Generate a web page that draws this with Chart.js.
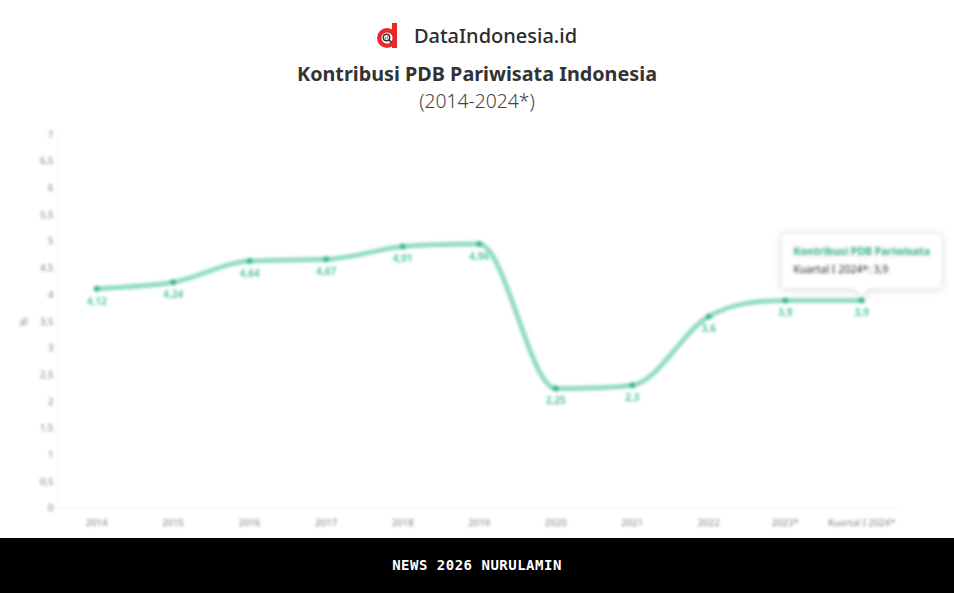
<!DOCTYPE html>
<html>
<head>
<meta charset="utf-8">
<script src="https://cdn.jsdelivr.net/npm/chart.js@4"></script>
<style>
  html,body{margin:0;padding:0;background:#fff;width:954px;height:593px;overflow:hidden;font-family:"Noto Sans",sans-serif;}
  #head{position:absolute;left:0;top:0;width:954px;height:120px;}
  #logo{position:absolute;top:22px;left:0;width:954px;text-align:center;height:30px;}
  #logo .wrap{display:inline-flex;align-items:center;gap:13px;}
  #logo .txt{font-size:20px;color:#2b2b2b;font-weight:500;}
  #title{position:absolute;top:60px;left:0;width:954px;text-align:center;font-size:19.8px;font-weight:700;color:#333;}
  #sub{position:absolute;top:87px;left:0;width:954px;text-align:center;font-size:19.3px;font-weight:300;color:#444;}
  #cv{position:absolute;left:0;top:120px;width:954px;height:418px;filter:blur(1.6px);}
  #foot{position:absolute;left:0;top:538px;width:954px;height:55px;background:#000;color:#fff;text-align:center;line-height:55px;font-family:"DejaVu Sans Mono",monospace;font-size:14px;font-weight:700;letter-spacing:0.5px;}
</style>
</head>
<body>
<div id="head">
  <div id="logo"><span class="wrap">
    <svg width="24" height="26" viewBox="0 0 24 26">
      <circle cx="10" cy="15" r="10" fill="#e8282b"/>
      <rect x="15" y="0" width="5" height="25" fill="#e8282b"/>
      <circle cx="10" cy="15" r="5.5" fill="#fff"/>
      <circle cx="9.5" cy="14.5" r="3.2" fill="none" stroke="#333" stroke-width="1.4"/>
      <line x1="11.8" y1="16.8" x2="14.5" y2="19.5" stroke="#333" stroke-width="1.6"/>
      <rect x="8" y="14" width="1.2" height="2" fill="#2a9"/>
      <rect x="10" y="13" width="1.2" height="3" fill="#f90"/>
    </svg>
    <span class="txt">DataIndonesia.id</span></span></div>
  <div id="title">Kontribusi PDB Pariwisata Indonesia</div>
  <div id="sub">(2014-2024*)</div>
</div>
<canvas id="cv" width="954" height="418"></canvas>
<div id="foot">NEWS 2026 NURULAMIN</div>
<script>
const categories = ["2014","2015","2016","2017","2018","2019","2020","2021","2022","2023*","Kuartal I 2024*"];
const seriesName = "Kontribusi PDB Pariwisata";
const values = [4.12, 4.24, 4.64, 4.67, 4.91, 4.96, 2.25, 2.31, 3.6, 3.9, 3.9];
const valueLabels = ["4,12","4,24","4,64","4,67","4,91","4,96","2,25","2,3","3,6","3,9","3,9"];
const yMin = 0, yMax = 7, yStep = 0.5;

const labelPlugin = {
  id: "valLabels",
  afterDatasetsDraw(chart) {
    const ctx = chart.ctx;
    const meta = chart.getDatasetMeta(0);
    ctx.save();
    ctx.font = "bold 10px 'Noto Sans'";
    ctx.fillStyle = "#5cc8a0";
    ctx.textAlign = "center";
    ctx.textBaseline = "middle";
    meta.data.forEach((pt, i) => {
      ctx.fillText(valueLabels[i], pt.x, pt.y + 13);
    });
    ctx.restore();
  }
};
const shadowPlugin = {
  id: "tipShadow",
  beforeTooltipDraw(chart) {
    const ctx = chart.ctx;
    ctx.save();
    ctx.shadowColor = "rgba(0,0,0,0.15)";
    ctx.shadowBlur = 8;
    ctx.shadowOffsetY = 1;
  },
  afterTooltipDraw(chart) { chart.ctx.restore(); }
};

const chart = new Chart(document.getElementById("cv"), {
  type: "line",
  data: {
    labels: categories,
    datasets: [{
      label: seriesName,
      data: values,
      borderColor: "rgba(100,205,165,0.7)",
      borderWidth: 5,
      backgroundColor: "#3fb889",
      pointBackgroundColor: "#3fb889",
      pointBorderColor: "#3fb889",
      pointBorderWidth: 0,
      pointRadius: 3,
      pointHoverRadius: 3,
      pointHoverBorderWidth: 0,
      cubicInterpolationMode: "monotone",
      fill: false
    }]
  },
  options: {
    responsive: false,
    animation: false,
    layout: { padding: { left: 15, right: 54, top: 15, bottom: 0 } },
    plugins: {
      legend: { display: false },
      tooltip: {
        enabled: true,
        backgroundColor: "#fff",
        titleColor: "#3fb889",
        bodyColor: "#333",
        titleFont: { family: "Noto Sans", size: 10.5, weight: "bold" },
        bodyFont: { family: "Noto Sans", size: 10.5 },
        titleMarginBottom: 6,
        displayColors: false,
        padding: 12,
        cornerRadius: 3,
        caretSize: 8,
        caretPadding: 4,
        xAlign: "center",
        yAlign: "bottom",
        borderColor: "rgba(0,0,0,0.05)",
        borderWidth: 1,
        callbacks: {
          title: () => seriesName,
          label: (c) => c.label + ": " + valueLabels[c.dataIndex]
        }
      }
    },
    scales: {
      x: {
        offset: true,
        grid: { display: false, drawTicks: false },
        border: { color: "#eee" },
        ticks: { color: "#7a7a7a", font: { family: "Noto Sans", size: 9.5 }, padding: 9, maxRotation: 0, autoSkip: false }
      },
      y: {
        min: yMin, max: yMax,
        grid: { display: false, drawTicks: false },
        border: { color: "#eee" },
        title: { display: true, text: "%", color: "#888", font: { family: "Noto Sans", size: 10 } },
        ticks: {
          stepSize: yStep, color: "#7a7a7a", padding: 5,
          font: { family: "Noto Sans", size: 9.5 },
          callback: (v) => String(v).replace(".", ",")
        }
      }
    }
  },
  plugins: [labelPlugin, shadowPlugin]
});
const last = chart.getDatasetMeta(0).data[values.length - 1];
chart.tooltip.setActiveElements([{ datasetIndex: 0, index: values.length - 1 }], { x: last.x, y: last.y });
chart.update();
</script>
</body>
</html>
